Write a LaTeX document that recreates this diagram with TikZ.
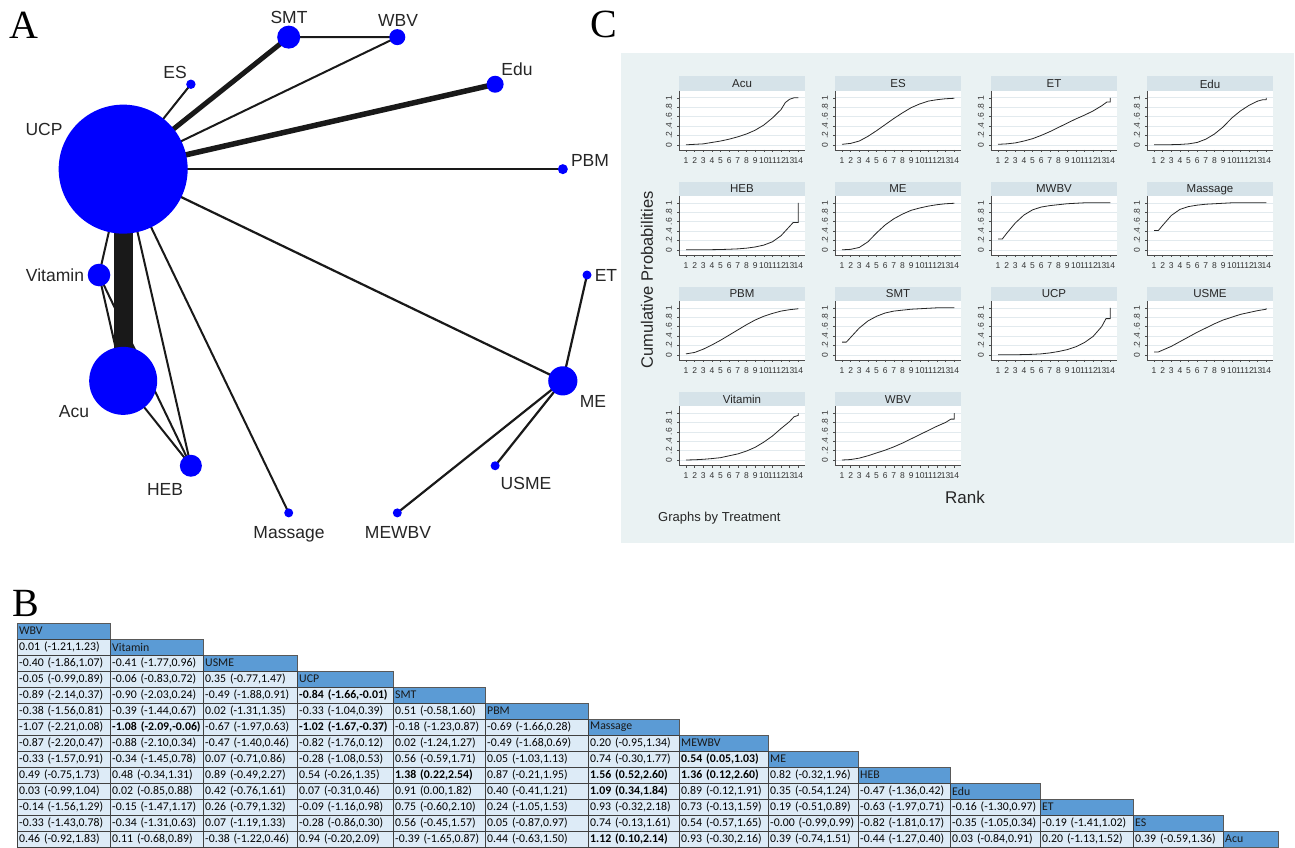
\documentclass[tikz,border=0pt]{standalone}
\usepackage{fontspec}
\setmainfont{Liberation Sans}
\newfontfamily\letterfont{Liberation Serif}
\newfontfamily\tablefont{Carlito}

\definecolor{netblue}{RGB}{0,0,255}
\definecolor{stataback}{RGB}{234,242,243}
\definecolor{statastrip}{RGB}{214,227,233}
\definecolor{statagrid}{RGB}{226,234,238}
\definecolor{hdrblue}{RGB}{91,155,213}
\definecolor{cellblue}{RGB}{221,235,247}

\def\colx{{17,110,203,297,393,485,588,679,768,858,950,1040,1133,1223,1278}}

\tikzstyle{edge}=[draw, black!90]
\tikzstyle{vertex}=[circle, fill=netblue, inner sep=0pt]
\tikzstyle{invis-vertex}=[circle, minimum size=0pt, inner sep=0pt]
\tikzstyle{netlabel}=[font=\fontsize{17.5}{20}\selectfont, text=black!85, inner sep=0pt, text depth=0pt]
\tikzstyle{panelletter}=[font=\letterfont\fontsize{40}{44}\selectfont, inner sep=0pt, text depth=0pt]
\tikzstyle{striptitle}=[font=\fontsize{11.5}{13}\selectfont, text=black!85, inner sep=0pt, text depth=0pt]
\tikzstyle{ticklabel}=[font=\fontsize{8.5}{9}\selectfont, text=black!80, inner sep=0pt, text depth=0pt]
\tikzstyle{axisline}=[draw, black!70, line width=0.5pt]
\tikzstyle{gridline}=[draw, statagrid, line width=0.6pt]
\tikzstyle{curve}=[draw, black!85, line width=0.8pt, line join=round]
\tikzstyle{hdrcell}=[rectangle, draw=black!65, fill=hdrblue, text=black!90, font=\tablefont\fontsize{11.8}{14}\selectfont, inner xsep=2pt, inner ysep=0pt, minimum height=16pt, anchor=north west, align=left]
\tikzstyle{datacell}=[rectangle, draw=black!75, fill=cellblue, text=black, font=\tablefont\fontsize{11.8}{14}\selectfont, inner xsep=2pt, inner ysep=0pt, minimum height=16pt, anchor=north west, align=left]

% one cell of the league table: style, row, column, text
\newcommand{\tabcell}[4]{%
  \pgfmathsetmacro{\cellx}{\colx[#3]}%
  \pgfmathsetmacro{\cellw}{\colx[#3+1]-\colx[#3]}%
  \pgfmathsetmacro{\celltw}{\cellw-4}%
  \pgfmathsetmacro{\celly}{623+16*#2}%
  \node[#1, minimum width=\cellw pt, text width=\celltw pt] (#1-#2-#3) at (\cellx,-\celly) {\mbox{#4}};%
}

% one rank plot: left x, top y, title, points (rank, cumulative probability)
\newcommand{\rankpanel}[4]{%
  \fill[statastrip] (#1,-#2) rectangle ({#1+126},{-#2-14.5});
  \node[striptitle] (title-#3) at ({#1+63},{-#2-7.4}) {#3};
  \fill[white] (#1,{-#2-14.5}) rectangle ({#1+126},{-#2-73.3});
  \foreach \g/\ytxt in {0/0, 1/.2, 2/.4, 3/.6, 4/.8, 5/1} {
    \path[gridline] (#1,{-#2-68.3+9.4*\g}) -- ({#1+126},{-#2-68.3+9.4*\g});
    \path[axisline] (#1,{-#2-68.3+9.4*\g}) -- ({#1-2.5},{-#2-68.3+9.4*\g});
    \node[ticklabel, rotate=90] (ytick-#3-\g) at ({#1-10},{-#2-68.3+9.4*\g}) {\ytxt};
  }
  \foreach \rk in {1,...,14} {
    \path[axisline] ({#1+7+(\rk-1)*8.64},{-#2-73.3}) -- ++(0,-2.5);
    \node[ticklabel] (xtick-#3-\rk) at ({#1+7+(\rk-1)*8.64},{-#2-84}) {\rk};
  }
  \path[axisline] (#1,{-#2-14.5}) -- (#1,{-#2-73.3}) -- ({#1+126},{-#2-73.3});
  \begin{scope}[shift={({#1-1.64},{-#2-68.3})}, x=8.64pt, y=47pt]
    \draw[curve] plot coordinates {#4};
  \end{scope}
}

\begin{document}
\begin{tikzpicture}[x=1pt, y=1pt]
  \useasboundingbox (0,0) rectangle (1295,-848);
  \fill[white] (0,0) rectangle (1295,-848);

  % A: network of comparisons
  \node[panelletter] (letter-a) at (24,-25) {A};
  \begin{scope}[shift={(343,-275)}]
    \foreach \name [count=\k from 0] in {et, pbm, edu, wbv, smt, es, ucp, vitamin, acu, heb, massage, mewbv, usme, me}
      \node[invis-vertex] (\name) at ({\k*360/14}:244) {};
  \end{scope}

  \foreach \source/\sink/\w in {ucp/smt/5, ucp/es/2, ucp/wbv/2, smt/wbv/2.2, ucp/edu/5.5, ucp/pbm/2.4, ucp/me/2.2, ucp/vitamin/2, ucp/acu/19, ucp/heb/2, ucp/massage/2, vitamin/acu/2, vitamin/heb/2, acu/heb/2, me/et/2.2, me/mewbv/2.2, me/usme/2.2} {
    \path[edge, line width=\w pt] (\source) -- (\sink);
  }

  \foreach \name/\dia in {et/9, pbm/10, edu/17, wbv/16, smt/23, es/9.4, ucp/129, vitamin/22.6, acu/68, heb/22, massage/9, mewbv/9, usme/9, me/29.2} {
    \node[vertex, minimum size=\dia pt] (\name-dot) at (\name) {};
  }

  \foreach \pos/\name/\txt in {{(44,-129)/ucp/UCP}, {(289,-17)/smt/SMT}, {(398,-20)/wbv/WBV}, {(175,-72)/es/ES}, {(517,-69)/edu/Edu}, {(590,-160)/pbm/PBM}, {(606,-275)/et/ET}, {(593,-401)/me/ME}, {(526,-483)/usme/USME}, {(398,-532)/mewbv/MEWBV}, {(289,-532)/massage/Massage}, {(165,-489)/heb/HEB}, {(74,-411)/acu/Acu}, {(55,-275)/vitamin/Vitamin}} {
    \node[netlabel] (\name-lbl) at \pos {\txt};
  }

  % C: cumulative rank probabilities
  \node[panelletter] (letter-c) at (604,-24) {C};
  \fill[stataback] (621,-53) rectangle (1294,-543);
  \rankpanel{679}{76.5}{Acu}{(1,0) (2,0.01) (3,0.02) (4,0.05) (5,0.08) (6,0.12) (7,0.17) (8,0.23) (9,0.31) (10,0.42) (11,0.57) (12,0.75) (12.5,0.9) (13,0.97) (13.5,1) (14,1)}
  \rankpanel{835}{76.5}{ES}{(1,0.01) (2,0.03) (3,0.08) (4,0.18) (5,0.30) (6,0.43) (7,0.56) (8,0.68) (9,0.79) (10,0.87) (11,0.93) (12,0.96) (13,0.98) (14,0.99)}
  \rankpanel{991}{76.5}{ET}{(1,0.01) (2,0.02) (3,0.04) (4,0.08) (5,0.13) (6,0.2) (7,0.28) (8,0.37) (9,0.46) (10,0.55) (11,0.63) (12,0.72) (13,0.83) (13.6,0.91) (14,0.91) (14,1)}
  \rankpanel{1147}{76.5}{Edu}{(1,0) (2,0) (3,0.003) (4,0.008) (5,0.02) (6,0.05) (7,0.12) (8,0.23) (9,0.38) (10,0.57) (11,0.72) (12,0.84) (13,0.93) (13.6,0.96) (14,0.96) (14,1)}
  \rankpanel{679}{181.5}{HEB}{(1,0) (3,0) (4,0.003) (5,0.006) (6,0.012) (7,0.02) (8,0.035) (9,0.06) (10,0.1) (11,0.17) (12,0.3) (13,0.5) (13.4,0.58) (14,0.58) (14,1)}
  \rankpanel{835}{181.5}{ME}{(1,0) (2,0.01) (3,0.05) (4,0.17) (5,0.36) (6,0.53) (7,0.66) (8,0.76) (9,0.84) (10,0.89) (11,0.93) (12,0.96) (13,0.98) (14,0.99)}
  \rankpanel{991}{181.5}{MWBV}{(1,0.23) (1.5,0.23) (2,0.35) (3,0.57) (4,0.74) (5,0.85) (6,0.91) (7,0.94) (8,0.96) (9,0.98) (10,0.99) (11,1) (14,1)}
  \rankpanel{1147}{181.5}{Massage}{(1,0.41) (1.5,0.41) (2,0.52) (3,0.73) (4,0.86) (5,0.92) (6,0.95) (7,0.97) (8,0.98) (9,0.99) (10,1) (14,1)}
  \rankpanel{679}{286.5}{PBM}{(1,0.02) (2,0.05) (3,0.12) (4,0.21) (5,0.31) (6,0.42) (7,0.53) (8,0.64) (9,0.74) (10,0.82) (11,0.88) (12,0.93) (13,0.96) (14,0.98)}
  \rankpanel{835}{286.5}{SMT}{(1,0.27) (1.5,0.27) (2,0.37) (3,0.57) (4,0.72) (5,0.82) (6,0.89) (7,0.93) (8,0.95) (9,0.97) (10,0.98) (11,0.99) (12,1) (14,1)}
  \rankpanel{991}{286.5}{UCP}{(1,0) (3,0) (4,0.006) (5,0.01) (6,0.02) (7,0.04) (8,0.07) (9,0.11) (10,0.17) (11,0.26) (12,0.39) (13,0.6) (13.5,0.77) (14,0.77) (14,1)}
  \rankpanel{1147}{286.5}{USME}{(1,0.06) (1.5,0.06) (2,0.1) (3,0.18) (4,0.28) (5,0.38) (6,0.48) (7,0.57) (8,0.66) (9,0.74) (10,0.8) (11,0.86) (12,0.9) (13,0.94) (14,0.97) (14,0.99)}
  \rankpanel{679}{391.7}{Vitamin}{(1,0) (2,0.005) (3,0.015) (4,0.03) (5,0.05) (6,0.09) (7,0.13) (8,0.19) (9,0.27) (10,0.38) (11,0.51) (12,0.67) (13,0.82) (13.5,0.92) (14,0.95) (14,1)}
  \rankpanel{835}{391.7}{WBV}{(1,0) (2,0.01) (3,0.04) (4,0.09) (5,0.15) (6,0.21) (7,0.28) (8,0.36) (9,0.45) (10,0.54) (11,0.63) (12,0.72) (13,0.8) (13.6,0.87) (14,0.87) (14,1)}
  \node[rotate=90, font=\fontsize{16.5}{18}\selectfont, text=black!85, inner sep=0pt, text depth=0pt] (ylabel) at (647,-280) {Cumulative Probabilities};
  \node[font=\fontsize{17}{19}\selectfont, text=black!85, inner sep=0pt, text depth=0pt] (xlabel) at (965,-497) {Rank};
  \node[font=\fontsize{13}{15}\selectfont, text=black!85, inner sep=0pt, text depth=0pt, anchor=west] (bynote) at (658,-517) {Graphs by Treatment};

  % B: league table
  \node[panelletter] (letter-b) at (26,-603) {B};
  \foreach \name [count=\rw from 0] in {WBV, Vitamin, USME, UCP, SMT, PBM, Massage, MEWBV, ME, HEB, Edu, ET, ES, Acu}
    \tabcell{hdrcell}{\rw}{\rw}{\name};
  \foreach \v [count=\c from 0] in {{0.01 (-1.21,1.23)}}
    \tabcell{datacell}{1}{\c}{\v};
  \foreach \v [count=\c from 0] in {{-0.40 (-1.86,1.07)},{-0.41 (-1.77,0.96)}}
    \tabcell{datacell}{2}{\c}{\v};
  \foreach \v [count=\c from 0] in {{-0.05 (-0.99,0.89)},{-0.06 (-0.83,0.72)},{0.35 (-0.77,1.47)}}
    \tabcell{datacell}{3}{\c}{\v};
  \foreach \v [count=\c from 0] in {{-0.89 (-2.14,0.37)},{-0.90 (-2.03,0.24)},{-0.49 (-1.88,0.91)},{\textbf{-0.84 (-1.66,-0.01)}}}
    \tabcell{datacell}{4}{\c}{\v};
  \foreach \v [count=\c from 0] in {{-0.38 (-1.56,0.81)},{-0.39 (-1.44,0.67)},{0.02 (-1.31,1.35)},{-0.33 (-1.04,0.39)},{0.51 (-0.58,1.60)}}
    \tabcell{datacell}{5}{\c}{\v};
  \foreach \v [count=\c from 0] in {{-1.07 (-2.21,0.08)},{\textbf{-1.08 (-2.09,-0.06)}},{-0.67 (-1.97,0.63)},{\textbf{-1.02 (-1.67,-0.37)}},{-0.18 (-1.23,0.87)},{-0.69 (-1.66,0.28)}}
    \tabcell{datacell}{6}{\c}{\v};
  \foreach \v [count=\c from 0] in {{-0.87 (-2.20,0.47)},{-0.88 (-2.10,0.34)},{-0.47 (-1.40,0.46)},{-0.82 (-1.76,0.12)},{0.02 (-1.24,1.27)},{-0.49 (-1.68,0.69)},{0.20 (-0.95,1.34)}}
    \tabcell{datacell}{7}{\c}{\v};
  \foreach \v [count=\c from 0] in {{-0.33 (-1.57,0.91)},{-0.34 (-1.45,0.78)},{0.07 (-0.71,0.86)},{-0.28 (-1.08,0.53)},{0.56 (-0.59,1.71)},{0.05 (-1.03,1.13)},{0.74 (-0.30,1.77)},{\textbf{0.54 (0.05,1.03)}}}
    \tabcell{datacell}{8}{\c}{\v};
  \foreach \v [count=\c from 0] in {{0.49 (-0.75,1.73)},{0.48 (-0.34,1.31)},{0.89 (-0.49,2.27)},{0.54 (-0.26,1.35)},{\textbf{1.38 (0.22,2.54)}},{0.87 (-0.21,1.95)},{\textbf{1.56 (0.52,2.60)}},{\textbf{1.36 (0.12,2.60)}},{0.82 (-0.32,1.96)}}
    \tabcell{datacell}{9}{\c}{\v};
  \foreach \v [count=\c from 0] in {{0.03 (-0.99,1.04)},{0.02 (-0.85,0.88)},{0.42 (-0.76,1.61)},{0.07 (-0.31,0.46)},{0.91 (0.00,1.82)},{0.40 (-0.41,1.21)},{\textbf{1.09 (0.34,1.84)}},{0.89 (-0.12,1.91)},{0.35 (-0.54,1.24)},{-0.47 (-1.36,0.42)}}
    \tabcell{datacell}{10}{\c}{\v};
  \foreach \v [count=\c from 0] in {{-0.14 (-1.56,1.29)},{-0.15 (-1.47,1.17)},{0.26 (-0.79,1.32)},{-0.09 (-1.16,0.98)},{0.75 (-0.60,2.10)},{0.24 (-1.05,1.53)},{0.93 (-0.32,2.18)},{0.73 (-0.13,1.59)},{0.19 (-0.51,0.89)},{-0.63 (-1.97,0.71)},{-0.16 (-1.30,0.97)}}
    \tabcell{datacell}{11}{\c}{\v};
  \foreach \v [count=\c from 0] in {{-0.33 (-1.43,0.78)},{-0.34 (-1.31,0.63)},{0.07 (-1.19,1.33)},{-0.28 (-0.86,0.30)},{0.56 (-0.45,1.57)},{0.05 (-0.87,0.97)},{0.74 (-0.13,1.61)},{0.54 (-0.57,1.65)},{-0.00 (-0.99,0.99)},{-0.82 (-1.81,0.17)},{-0.35 (-1.05,0.34)},{-0.19 (-1.41,1.02)}}
    \tabcell{datacell}{12}{\c}{\v};
  \foreach \v [count=\c from 0] in {{0.46 (-0.92,1.83)},{0.11 (-0.68,0.89)},{-0.38 (-1.22,0.46)},{0.94 (-0.20,2.09)},{-0.39 (-1.65,0.87)},{0.44 (-0.63,1.50)},{\textbf{1.12 (0.10,2.14)}},{0.93 (-0.30,2.16)},{0.39 (-0.74,1.51)},{-0.44 (-1.27,0.40)},{0.03 (-0.84,0.91)},{0.20 (-1.13,1.52)},{0.39 (-0.59,1.36)}}
    \tabcell{datacell}{13}{\c}{\v};
\end{tikzpicture}
\end{document}
